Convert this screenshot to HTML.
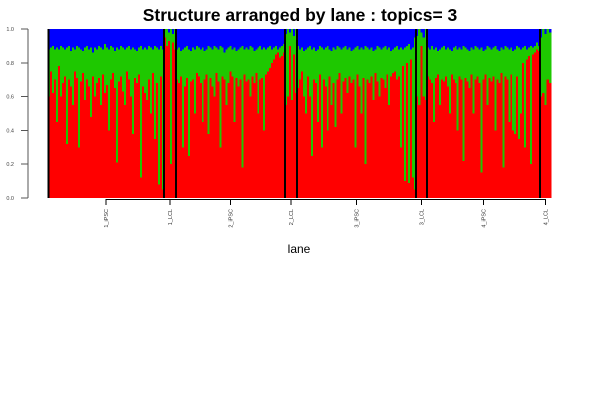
<!DOCTYPE html>
<html><head><meta charset="utf-8"><style>
html,body{margin:0;padding:0;background:#fff;width:600px;height:400px;overflow:hidden}
svg text{font-family:"Liberation Sans",Arial,sans-serif}
</style></head><body>
<svg id="chart" width="600" height="400" viewBox="0 0 600 400" shape-rendering="crispEdges">
<text x="300" y="21" text-anchor="middle" font-size="17.5" font-weight="bold">Structure arranged by lane : topics= 3</text>
<text x="299" y="253" text-anchor="middle" font-size="12">lane</text>
<g id="bars"></g>
<g id="axes"></g>
</svg>
<script>
const lanes = ["1_iPSC","1_LCL","2_iPSC","2_LCL","3_iPSC","3_LCL","4_iPSC","4_LCL"];
const laneWidths = [116,12,109,12,119,11,113,11];
const redVals = [
[0.6,0.75,0.62,0.7,0.45,0.78,0.6,0.68,0.72,0.32,0.7,0.66,0.55,0.75,0.71,0.3,0.69,0.74,0.58,0.7,0.66,0.48,0.72,0.6,0.68,0.71,0.55,0.73,0.62,0.67,0.4,0.7,0.74,0.65,0.21,0.69,0.72,0.63,0.55,0.75,0.7,0.6,0.38,0.71,0.68,0.73,0.12,0.66,0.62,0.58,0.7,0.5,0.74,0.35,0.68,0.08,0.72,0.05],
[0.95,0.9,0.93,0.2,0.92,0.88],
[0.7,0.68,0.72,0.3,0.66,0.71,0.25,0.69,0.7,0.5,0.74,0.72,0.68,0.45,0.7,0.73,0.38,0.71,0.66,0.6,0.74,0.69,0.3,0.72,0.7,0.55,0.68,0.75,0.72,0.45,0.71,0.66,0.7,0.18,0.73,0.69,0.7,0.6,0.72,0.68,0.74,0.5,0.7,0.71,0.4,0.73,0.75,0.77,0.8,0.82,0.85,0.86,0.83,0.84,0.86],
[0.55,0.6,0.9,0.58,0.85,0.62],
[0.65,0.7,0.75,0.6,0.5,0.72,0.6,0.25,0.7,0.68,0.45,0.73,0.3,0.7,0.66,0.4,0.72,0.55,0.68,0.42,0.7,0.74,0.5,0.69,0.71,0.62,0.72,0.68,0.7,0.3,0.73,0.66,0.5,0.71,0.2,0.7,0.68,0.72,0.58,0.74,0.69,0.6,0.71,0.7,0.65,0.73,0.55,0.72,0.74,0.75,0.7,0.72,0.3,0.78,0.1,0.8,0.09,0.82,0.12,0.05],
[0.6,0.55,0.9,0.6,0.58],
[0.72,0.7,0.68,0.45,0.71,0.73,0.55,0.7,0.69,0.72,0.66,0.5,0.73,0.7,0.68,0.4,0.72,0.7,0.22,0.71,0.69,0.65,0.73,0.5,0.7,0.72,0.68,0.15,0.7,0.73,0.55,0.71,0.69,0.72,0.4,0.7,0.68,0.74,0.18,0.72,0.7,0.45,0.73,0.4,0.38,0.72,0.35,0.5,0.8,0.3,0.82,0.84,0.2,0.85,0.86,0.88,0.87],
[0.6,0.62,0.55,0.7,0.68]
];
const topVals = [
[0.88,0.89,0.9,0.88,0.89,0.88,0.9,0.89,0.88,0.89,0.9,0.87,0.89,0.88,0.9,0.89,0.88,0.87,0.89,0.9,0.88,0.89,0.86,0.89,0.88,0.9,0.89,0.88,0.91,0.89,0.88,0.9,0.89,0.87,0.89,0.88,0.9,0.89,0.88,0.89,0.9,0.88,0.89,0.88,0.87,0.89,0.9,0.88,0.89,0.88,0.9,0.89,0.88,0.9,0.89,0.88,0.9,0.88],
[1.0,1.0,0.98,1.0,0.97,1.0],
[0.88,0.89,0.87,0.88,0.89,0.9,0.88,0.87,0.89,0.88,0.9,0.89,0.88,0.89,0.87,0.88,0.9,0.89,0.88,0.9,0.89,0.88,0.9,0.89,0.86,0.88,0.89,0.9,0.88,0.89,0.87,0.88,0.89,0.9,0.88,0.89,0.88,0.9,0.89,0.87,0.88,0.89,0.9,0.88,0.89,0.88,0.89,0.9,0.88,0.89,0.9,0.88,0.89,0.9,0.91],
[0.97,1.0,0.98,1.0,0.96,1.0],
[0.9,0.88,0.89,0.87,0.88,0.89,0.9,0.88,0.89,0.87,0.88,0.9,0.89,0.88,0.89,0.9,0.88,0.87,0.89,0.88,0.9,0.89,0.88,0.89,0.9,0.88,0.89,0.87,0.88,0.89,0.9,0.88,0.89,0.88,0.9,0.89,0.88,0.89,0.87,0.88,0.9,0.89,0.88,0.89,0.9,0.88,0.89,0.87,0.88,0.89,0.9,0.88,0.89,0.88,0.89,0.9,0.91,0.88,0.89,0.95],
[0.96,1.0,0.98,0.95,1.0],
[0.89,0.88,0.9,0.88,0.89,0.87,0.88,0.89,0.9,0.88,0.89,0.88,0.87,0.89,0.9,0.88,0.89,0.88,0.9,0.89,0.88,0.87,0.89,0.88,0.9,0.89,0.88,0.89,0.87,0.88,0.9,0.89,0.88,0.89,0.9,0.88,0.87,0.89,0.88,0.9,0.89,0.88,0.89,0.87,0.88,0.9,0.89,0.88,0.89,0.9,0.88,0.89,0.9,0.89,0.9,0.92,0.9],
[0.95,1.0,0.97,1.0,0.98]
];
const yTicks = [0,0.2,0.4,0.6,0.8,1.0];
const yTickLabels = ["0.0","0.2","0.4","0.6","0.8","1.0"];

const NS="http://www.w3.org/2000/svg";
const X0=48, Y0=198, Y1=29;
const yScale=v=>Y0-(Y0-Y1)*v;
const bars=document.getElementById('bars'), axes=document.getElementById('axes');
function mk(tag,attrs,parent){const e=document.createElementNS(NS,tag);for(const k in attrs)e.setAttribute(k,attrs[k]);parent.appendChild(e);return e;}
let x=X0; const bounds=[], centers=[];
lanes.forEach((lane,li)=>{
  const n=redVals[li].length, w=laneWidths[li]/n;
  for(let i=0;i<n;i++){
    const bx=x+i*w, r=redVals[li][i], t=Math.max(topVals[li][i],r);
    const b=mk('rect',{x:bx,y:Y1,width:w+0.3,height:yScale(t)-Y1,fill:'#0000ff'},bars);
    
    
    const g=mk('rect',{x:bx,y:yScale(t),width:w+0.3,height:yScale(r)-yScale(t),fill:'#1ec800'},bars);
    
    
    const rr=mk('rect',{x:bx,y:yScale(r),width:w+0.3,height:Y0-yScale(r),fill:'#ff0000'},bars);
    
    
  }
  centers.push(x+laneWidths[li]/2);
  x+=laneWidths[li]; bounds.push(x);
});
const lb=mk('line',{x1:X0+0.5,x2:X0+0.5,y1:Y1,y2:Y0,stroke:'#000','stroke-width':2},axes);


bounds.slice(0,-1).forEach(bx=>{
  const l=mk('line',{x1:bx,x2:bx,y1:Y1,y2:Y0,stroke:'#000','stroke-width':2},axes);
  
  
});
const ya=mk('line',{x1:28,x2:28,y1:yScale(0),y2:yScale(1),stroke:'#555','stroke-width':1},axes);


yTicks.forEach((v,i)=>{
  const t=mk('line',{x1:21,x2:28,y1:yScale(v),y2:yScale(v),stroke:'#555'},axes);
  
  
  const tx=mk('text',{x:14,y:yScale(v)+2,'text-anchor':'end','font-size':5.5,fill:'#444'},axes);
  tx.textContent=yTickLabels[i];
  
  
});
const xa=mk('line',{x1:centers[0],x2:centers[centers.length-1],y1:199.5,y2:199.5,stroke:'#000'},axes);


centers.forEach((c,i)=>{
  const t=mk('line',{x1:c,x2:c,y1:199,y2:205,stroke:'#000'},axes);
  
  
  const tx=mk('text',{x:0,y:0,'text-anchor':'end','font-size':5.5,fill:'#333',transform:`translate(${c+2},209) rotate(-90)`},axes);
  tx.textContent=lanes[i];
  
  
});
</script>
</body></html>
